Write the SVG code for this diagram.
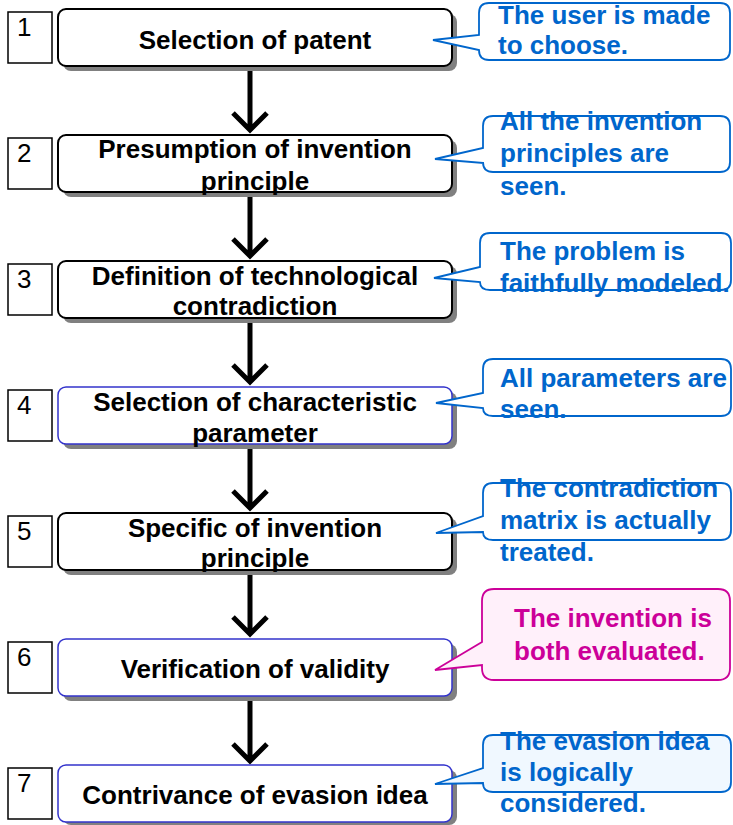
<svg xmlns="http://www.w3.org/2000/svg" width="733" height="825" viewBox="0 0 733 825">
<defs>
<style>
.nb{fill:#fff;stroke:#000;stroke-width:1.5}
.nt{font-family:"Liberation Sans",Arial,sans-serif;font-size:26px;fill:#000}
.shadow{fill:#808080}
.node{fill:#fff;stroke:#000;stroke-width:2}
.nodeb{fill:#fff;stroke:#3333cc;stroke-width:1.5}
.lbl{font-family:"Liberation Sans",Arial,sans-serif;font-size:26px;font-weight:bold;fill:#000;text-anchor:middle}
.co{fill:#fff;stroke:#0066cc;stroke-width:1.8}
.cot{font-family:"Liberation Sans",Arial,sans-serif;font-size:26px;font-weight:bold;fill:#0066cc}
.cop{fill:#fff0fa;stroke:#cc0099;stroke-width:1.8}
.copt{font-family:"Liberation Sans",Arial,sans-serif;font-size:26px;font-weight:bold;fill:#cc0099}
.arr{fill:none;stroke:#000;stroke-width:5}
</style>
</defs>
<rect width="733" height="825" fill="#fff"/>

<g id="connectors">
<path class="arr" d="M250,66 V129 M233,113 L250,130 L267,113"/>
<path class="arr" d="M250,192 V255 M233,239 L250,256 L267,239"/>
<path class="arr" d="M250,318 V381 M233,365 L250,382 L267,365"/>
<path class="arr" d="M250,444 V507 M233,491 L250,508 L267,491"/>
<path class="arr" d="M250,570 V633 M233,617 L250,634 L267,617"/>
<path class="arr" d="M250,696 V760 M233,744 L250,761 L267,744"/>
</g>

<g id="step1">
<rect class="nb" x="8" y="12" width="44" height="51"/>
<text class="nt" x="17" y="36">1</text>
<rect class="shadow" x="63" y="14" width="394" height="57" rx="8"/>
<rect class="node" x="58" y="9" width="394" height="57" rx="8"/>
<text class="lbl" x="255" y="49">Selection of patent</text>
</g>
<g id="note1">
<path class="co" d="M489,3 H720 Q730,3 730,13 V50 Q730,60 720,60 H489 Q479,60 479,50 V50 L433,40 L479,35 V13 Q479,3 489,3 Z"/>
<text class="cot" x="498" y="24">The user is made</text>
<text class="cot" x="498" y="54">to choose.</text>
</g>

<g id="step2">
<rect class="nb" x="8" y="138" width="44" height="51"/>
<text class="nt" x="17" y="162">2</text>
<rect class="shadow" x="63" y="140" width="394" height="57" rx="8"/>
<rect class="node" x="58" y="135" width="394" height="57" rx="8"/>
<text class="lbl" x="255" y="158">Presumption of invention</text>
<text class="lbl" x="255" y="190">principle</text>
</g>
<g id="note2">
<path class="co" d="M493,116 H720 Q730,116 730,126 V162 Q730,172 720,172 H493 Q483,172 483,162 V163 L435,159 L483,148 V126 Q483,116 493,116 Z"/>
<text class="cot" x="500" y="130">All the invention</text>
<text class="cot" x="500" y="162">principles are</text>
<text class="cot" x="500" y="195">seen.</text>
</g>

<g id="step3">
<rect class="nb" x="8" y="264" width="44" height="51"/>
<text class="nt" x="17" y="288">3</text>
<rect class="shadow" x="63" y="266" width="394" height="57" rx="8"/>
<rect class="node" x="58" y="261" width="394" height="57" rx="8"/>
<text class="lbl" x="255" y="285">Definition of technological</text>
<text class="lbl" x="255" y="315">contradiction</text>
</g>
<g id="note3">
<path class="co" d="M490,233 H721 Q731,233 731,243 V280 Q731,290 721,290 H490 Q480,290 480,282 L434,278 L480,267 V243 Q480,233 490,233 Z"/>
<text class="cot" x="500" y="260">The problem is</text>
<text class="cot" x="500" y="292">faithfully modeled.</text>
</g>

<g id="step4">
<rect class="nb" x="8" y="390" width="44" height="51"/>
<text class="nt" x="17" y="414">4</text>
<rect class="shadow" x="63" y="392" width="394" height="57" rx="8"/>
<rect class="nodeb" x="58" y="387" width="394" height="57" rx="8"/>
<text class="lbl" x="255" y="411">Selection of characteristic</text>
<text class="lbl" x="255" y="442">parameter</text>
</g>
<g id="note4">
<path class="co" d="M493,359 H721 Q731,359 731,369 V406 Q731,416 721,416 H493 Q483,416 483,408 L436,403 L483,393 V369 Q483,359 493,359 Z"/>
<text class="cot" x="500" y="387">All parameters are</text>
<text class="cot" x="500" y="418">seen.</text>
</g>

<g id="step5">
<rect class="nb" x="8" y="516" width="44" height="51"/>
<text class="nt" x="17" y="540">5</text>
<rect class="shadow" x="63" y="518" width="394" height="57" rx="8"/>
<rect class="node" x="58" y="513" width="394" height="57" rx="8"/>
<text class="lbl" x="255" y="537">Specific of invention</text>
<text class="lbl" x="255" y="567">principle</text>
</g>
<g id="note5">
<path class="co" d="M493,483 H721 Q731,483 731,493 V530 Q731,540 721,540 H493 Q483,540 483,532 L436,533 L483,516 V493 Q483,483 493,483 Z"/>
<text class="cot" x="500" y="497">The contradiction</text>
<text class="cot" x="500" y="529">matrix is actually</text>
<text class="cot" x="500" y="561">treated.</text>
</g>

<g id="step6">
<rect class="nb" x="8" y="642" width="44" height="51"/>
<text class="nt" x="17" y="666">6</text>
<rect class="shadow" x="63" y="644" width="394" height="57" rx="8"/>
<rect class="nodeb" x="58" y="639" width="394" height="57" rx="8"/>
<text class="lbl" x="255" y="678">Verification of validity</text>
</g>
<g id="note6">
<path class="cop" d="M494,589 H718 Q730,589 730,601 V668 Q730,680 718,680 H494 Q482,680 482,668 V665 L435,670 L482,642 V601 Q482,589 494,589 Z"/>
<text class="copt" x="514" y="627">The invention is</text>
<text class="copt" x="514" y="660">both evaluated.</text>
</g>

<g id="step7">
<rect class="nb" x="8" y="768" width="44" height="51"/>
<text class="nt" x="17" y="792">7</text>
<rect class="shadow" x="63" y="770" width="394" height="55" rx="8"/>
<rect class="nodeb" x="58" y="765" width="394" height="57" rx="8"/>
<text class="lbl" x="255" y="804">Contrivance of evasion idea</text>
</g>
<g id="note7">
<path class="co" style="fill:#f0f8ff" d="M493,735 H721 Q731,735 731,745 V782 Q731,792 721,792 H493 Q483,792 483,783 L435,784 L483,768 V745 Q483,735 493,735 Z"/>
<text class="cot" x="500" y="750">The evasion idea</text>
<text class="cot" x="500" y="781">is logically</text>
<text class="cot" x="500" y="812">considered.</text>
</g>
</svg>
